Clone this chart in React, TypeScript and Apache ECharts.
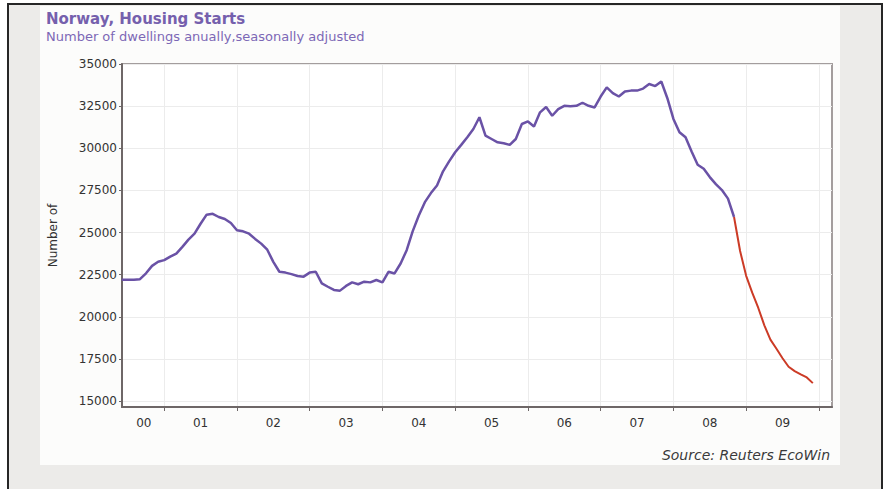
import React, { useEffect, useRef } from "react";
import * as echarts from "echarts";

// Monthly housing starts, June 2000 .. December 2009 (dwellings, annualised, s.a.)
const startYear = 2000;
const startMonth = 6;
const starts2000 = [22200, 22200, 22200, 22230, 22580, 23020, 23260];
const starts2001 = [23360, 23570, 23750, 24150, 24580, 24930, 25520, 26060, 26110, 25920, 25800, 25560];
const starts2002 = [25130, 25070, 24930, 24620, 24340, 23980, 23260, 22670, 22620, 22530, 22420, 22380];
const starts2003 = [22620, 22670, 21980, 21780, 21590, 21550, 21830, 22040, 21930, 22080, 22040, 22180];
const starts2004 = [22040, 22670, 22570, 23160, 23950, 25080, 26010, 26800, 27340, 27790, 28630, 29220];
const starts2005 = [29760, 30200, 30650, 31140, 31840, 30750, 30550, 30350, 30300, 30200, 30550, 31440];
const starts2006 = [31590, 31290, 32130, 32450, 31930, 32320, 32520, 32490, 32520, 32700, 32520, 32420];
const starts2007 = [33070, 33610, 33270, 33070, 33370, 33420, 33420, 33540, 33810, 33690, 33960, 32970];
const starts2008 = [31740, 30950, 30650, 29810, 29020, 28780, 28290, 27870, 27520, 27010, 25920, 23900];
const starts2009 = [22430, 21430, 20520, 19490, 18640, 18100, 17540, 17030, 16770, 16580, 16400, 16060];
// red segment begins at November 2008
const redFromYear = 2008;
const redFromMonth = 11;

const yTicks = [15000, 17500, 20000, 22500, 25000, 27500, 30000, 32500, 35000];
const yearTicks = [2001, 2002, 2003, 2004, 2005, 2006, 2007, 2008, 2009, 2010];
const yearLabelPos = [2000.72, 2001.5, 2002.5, 2003.5, 2004.5, 2005.5, 2006.5, 2007.5, 2008.5, 2009.5];
const xMin = 2000.42;
const xMax = 2010.18;
const yMin = 14644;
const yMax = 35000;

const titleText = "Norway, Housing Starts";
const subtitleText = "Number of dwellings anually,seasonally adjusted";
const yName = "Number of";
const sourceText = "Source: Reuters EcoWin";

const FONT = "DejaVu Sans";

export default function App() {
  const ref = useRef<HTMLDivElement>(null);
  useEffect(() => {
    if (!ref.current) return;
    const chart = echarts.init(ref.current, undefined, { renderer: "svg" });
    const all = [
      ...starts2000, ...starts2001, ...starts2002, ...starts2003, ...starts2004,
      ...starts2005, ...starts2006, ...starts2007, ...starts2008, ...starts2009,
    ];
    const pts = all.map((v, i) => [startYear + (startMonth - 1 + i) / 12, v]);
    const splitIdx = (redFromYear - startYear) * 12 + (redFromMonth - startMonth);
    const purple = pts.slice(0, splitIdx + 1);
    const red = pts.slice(splitIdx);

    chart.setOption({
      animation: false,
      textStyle: { fontFamily: FONT },
      graphic: [
        {
          type: "rect",
          z: -10,
          shape: { x: 8, y: 4, width: 874, height: 500 },
          style: { fill: "#ecebe9", stroke: "#262626", lineWidth: 2 },
        },
        {
          type: "rect",
          z: -9,
          shape: { x: 40, y: 6, width: 800, height: 459 },
          style: { fill: "#fcfcfb" },
        },
        {
          type: "text",
          z: 5,
          right: 59,
          top: 448,
          style: {
            text: sourceText,
            fill: "#3a3a3a",
            font: `italic 14px "${FONT}"`,
          },
        },
      ],
      title: {
        left: 46,
        top: 11,
        padding: 0,
        itemGap: 4,
        text: titleText,
        subtext: subtitleText,
        textStyle: { fontFamily: FONT, fontSize: 15, fontWeight: "bold", color: "#7560ad" },
        subtextStyle: { fontFamily: FONT, fontSize: 13, color: "#7c68b6" },
      },
      grid: {
        left: 122,
        right: 57,
        top: 64,
        bottom: 82,
        show: true,
        backgroundColor: "#ffffff",
        borderColor: "#a39d9d",
        borderWidth: 2,
      },
      xAxis: {
        type: "value",
        min: xMin,
        max: xMax,
        axisLine: { show: true, onZero: false, lineStyle: { color: "#6e6767", width: 2 } },
        axisTick: { show: true, length: 4, customValues: yearTicks, lineStyle: { color: "#6e6767" } },
        axisLabel: {
          customValues: yearLabelPos,
          formatter: (v: number) => String(Math.floor(v) % 100).padStart(2, "0"),
          color: "#333",
          fontSize: 12,
          fontFamily: FONT,
          margin: 10,
        },
        splitLine: { show: true, lineStyle: { color: "#ececec", width: 1 } },
      },
      yAxis: {
        type: "value",
        min: yMin,
        max: yMax,
        name: yName,
        nameLocation: "middle",
        nameGap: 63,
        nameTextStyle: { color: "#333", fontSize: 12, fontFamily: FONT },
        axisLine: { show: true, lineStyle: { color: "#6e6767", width: 2 } },
        axisTick: { show: true, length: 3, customValues: yTicks, lineStyle: { color: "#6e6767" } },
        axisLabel: {
          customValues: yTicks,
          formatter: (v: number) => String(Math.round(v)),
          color: "#333",
          fontSize: 12,
          fontFamily: FONT,
          margin: 5,
        },
        splitLine: { show: true, lineStyle: { color: "#ececec", width: 1 } },
      },
      series: [
        {
          type: "line",
          data: purple,
          showSymbol: false,
          symbol: "none",
          lineStyle: { color: "#6a52a6", width: 2.5 },
          z: 3,
        },
        {
          type: "line",
          data: red,
          showSymbol: false,
          symbol: "none",
          lineStyle: { color: "#cc3b26", width: 2 },
          z: 4,
        },
      ],
    });
    return () => chart.dispose();
  }, []);
  return (
    <div
      ref={ref}
      style={{ position: "absolute", left: 0, top: 0, width: 889, height: 489, background: "#ffffff" }}
    />
  );
}
